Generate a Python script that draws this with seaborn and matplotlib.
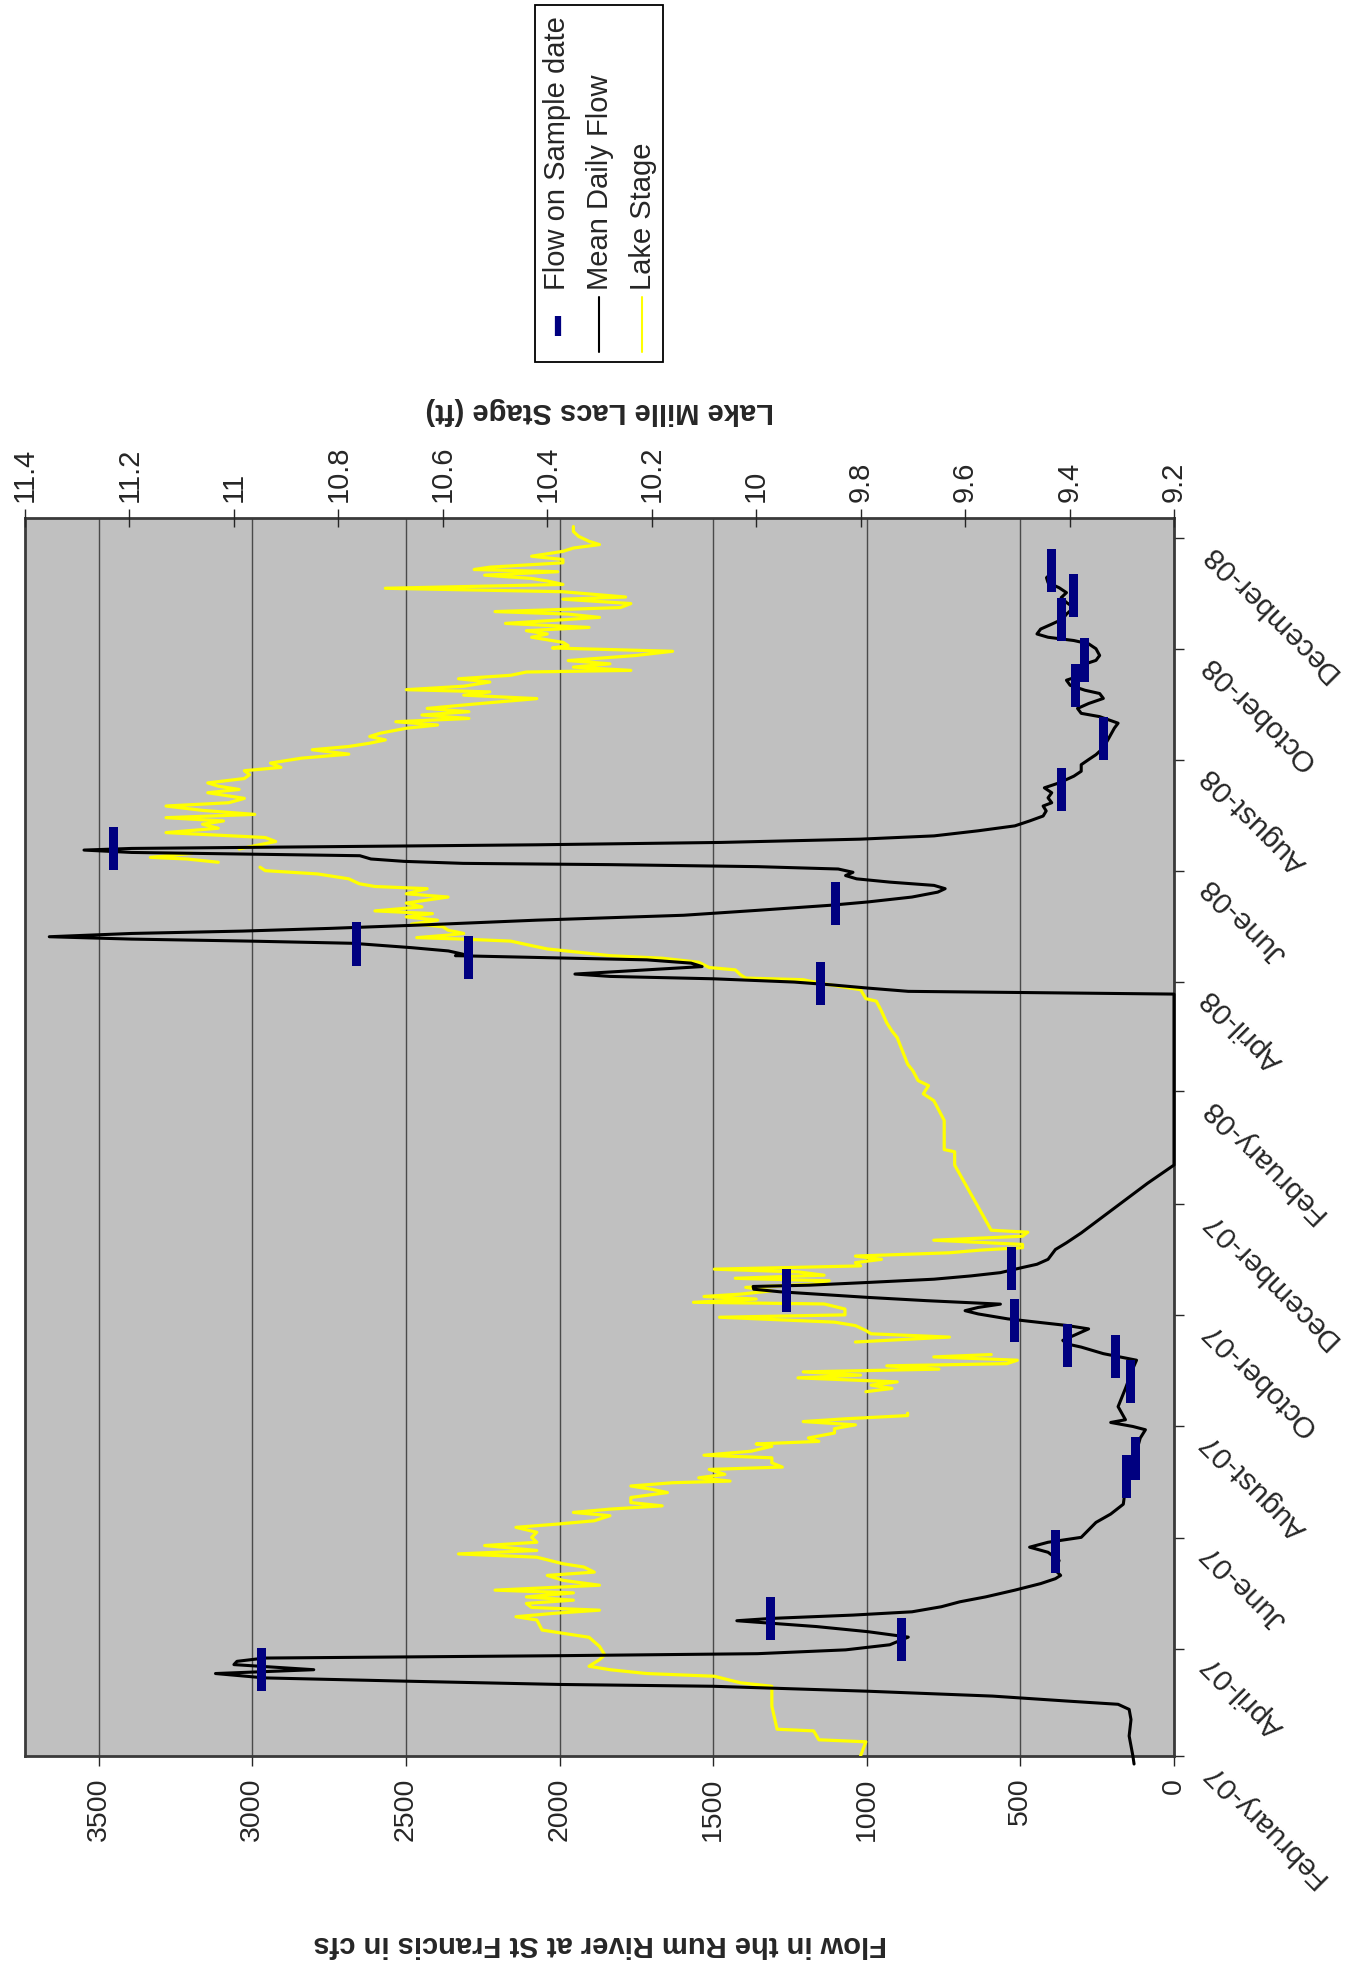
import numpy as np
import pandas as pd
import matplotlib
matplotlib.use("Agg")
import matplotlib.pyplot as plt
import matplotlib.dates as mdates
from matplotlib.path import Path
from matplotlib.lines import Line2D
from matplotlib.patches import Rectangle
from matplotlib.transforms import ScaledTranslation
import seaborn as sns

sns.set_style("white")
plt.rcParams['font.family'] = ['Liberation Sans', 'DejaVu Sans']

START = pd.Timestamp("2007-02-01")

# ---- Mean daily flow (days after 1 Feb 2007, cfs) ----
flow_days = [-4.4, 0.2, 11, 20, 25.6, 28.4, 30.2, 32.9, 35.6, 38.3, 39.3, 41.1, 42.9, 45.3, 47.4, 50.2, 52.0,
             53.8, 55.1, 56.2, 58.3, 61.1, 65.3, 68.3, 71.1, 72.9, 74.3, 75.6, 77.4, 79.2, 82.0, 84.7, 87.4,
             91.1, 94.7, 97.4, 99.2, 102.0, 107.4, 111.9, 114.7, 117.4, 120.1, 128.3, 132.9, 138.3, 147.4,
             154.7, 167.4, 174.6, 179.2, 181.0, 183.2, 184.7, 191.9, 201.9, 212.8, 217.4, 221.0, 224.6, 226.4,
             228.3, 231.0, 234.6, 236.5, 238.3, 240.1, 242.8, 244.6, 246.4, 248.2, 250.1, 251.9, 253.7, 255.0,
             256.4, 257.9, 258.6, 260.1, 261.9, 263.7, 265.5, 268.3, 270.1, 272.8, 278.2, 281.9, 287.3, 296.4,
             305.5, 314.6, 324.6, 418.5, 420.0, 421.8, 423.6, 425.1, 426.9, 428.2, 429.5, 431.8, 433.6, 435.5,
             437.3, 438.6, 439.6, 440.4, 442.2, 444.0, 446.4, 447.6, 448.7, 450.0, 451.8, 453.1, 454.6, 456.4,
             459.1, 461.8, 464.5, 467.3, 469.1, 471.8, 474.5, 476.4, 478.2, 480.0, 481.8, 483.6, 485.4, 487.2,
             488.5, 489.6, 490.3, 491.4, 492.7, 494.5, 495.4, 496.3, 497.6, 498.5, 499.4, 500.5, 501.8, 503.6,
             505.4, 508.2, 510.9, 513.6, 516.3, 519.1, 521.8, 523.6, 526.3, 529.1, 531.8, 534.5, 538.2, 540.9,
             544.5, 547.3, 550.0, 553.7, 557.3, 560.9, 564.6, 567.3, 570.9, 572.7, 575.4, 578.1, 580.9, 583.6,
             585.4, 588.1, 590.9, 593.6, 596.3, 599.1, 601.8, 604.5, 608.2, 610.9, 612.7, 614.5, 616.3, 619.0,
             621.7, 624.5, 627.2, 630.8, 633.6, 636.3, 639.0, 641.7, 644.5, 647.2, 649.9]
flow_values = [130, 134, 146, 140, 146, 182, 350, 590, 1000, 1500, 2000, 2500, 2960, 3120, 2800, 3060, 3050,
               2960, 2000, 1356, 1069, 925, 865, 997, 1164, 1308, 1423, 1308, 1045, 853, 757, 697, 613,
               518, 434, 386, 369, 386, 374, 410, 470, 410, 302, 254, 206, 165, 158,
               146, 122, 110, 93, 134, 206, 158, 182, 158, 134, 122, 230, 302, 350,
               362, 326, 278, 350, 446, 541, 637, 680, 637, 565, 805, 997, 1164, 1284,
               1368, 1370, 1188, 997, 781, 661, 565, 494, 446, 410, 386, 350, 302, 230,
               158, 86, 0, 0, 865, 997, 1117, 1236, 1500, 1835, 1950, 1716, 1536, 1572,
               1716, 2075, 2339, 2314, 2362, 2482, 2674, 3009, 3393, 3661, 3393, 3033, 2745, 2458,
               2075, 1596, 1356, 1117, 997, 853, 769, 745, 781, 925, 1033, 1069, 1045, 1093,
               1356, 1835, 2314, 2506, 2614, 2650, 3033, 3393, 3548, 3393, 2794, 2075, 1476, 1021,
               781, 637, 518, 470, 426, 416, 426, 398, 410, 398, 422, 374, 326, 302,
               302, 278, 254, 230, 218, 206, 194, 182, 242, 302, 314, 278, 230, 242,
               290, 338, 350, 302, 326, 302, 254, 242, 254, 278, 326, 410, 446, 434,
               398, 362, 350, 326, 350, 367, 350, 374, 410, 415, 398]

# ---- Flow on sample dates ----
sample_days = [47.4, 64.0, 75.6, 112.3, 153.6, 163.5, 205.5, 219.5, 225.7, 239.2, 255.5, 268.0,
               424.5, 438.6, 446.0, 468.0, 498.6, 531.0, 559.0, 588.0, 602.0, 624.2, 637.4, 651.2]
sample_flow = [2970, 886, 1312, 387, 155, 125, 142, 189, 346, 518, 1260, 528,
               1152, 2295, 2662, 1102, 3453, 367, 230, 321, 290, 367, 326, 398]

# ---- Lake stage (ft); NaN marks missing records ----
stage_days = [0.2, 7.8, 8.9, 13.8, 14.7, 27.4, 38.3, 40.2, 43.8, 45.3, 47.4, 49.3, 52.9, 55.6, 60.2, 65.2,
              67.4, 69.2, 74.7, 76.5, 78.3, 80.1, 81.6, 83.8, 85.6, 87.4, 89.6, 91.1, 93.8, 96.5, 99.2, 101.0,
              103.8, 105.6, 109.2, 111.0, 112.9,
              115.6, 117.4, 120.1, 122.9, 125.6, 127.4, 129.2, 132.0, 133.8, 135.6, 137.4, 139.2, 142.0, 144.7,
              146.5, 148.3, 150.1, 151.0, 152.8, 154.7, 157.4, 158.7, 161.0, 163.8, 165.2, 167.4, 170.1, 171.4,
              172.8, 174.7, 177.4, 179.8, 181.9, 183.7, 185.2, 187.0, 188.3, 194.0, 200.1, 201.9, 203.7, 205.5,
              207.7, 209.2, 211.0, 212.5, 214.3, 215.5, 217.4, 219.2, 220.5, 223.5,
              227.4, 230.1, 231.9, 233.7, 236.4, 238.3, 241.0, 242.3, 245.5, 248.3, 249.2, 251.0, 252.4, 253.7,
              255.5, 257.4, 259.2, 261.0, 262.4, 264.1, 265.9, 267.4, 269.2, 271.0, 272.8, 274.6, 276.4, 277.9,
              279.2, 281.0, 283.3, 285.5, 287.7, 288.8, 324.6, 331.9, 333.1, 334.6, 341.9,
              347.3, 349.1, 354.6, 360.0, 363.7, 368.2, 371.0, 376.4, 380.0, 387.3, 394.6, 398.2, 402.7, 409.1,
              414.6, 416.0, 420.9, 422.7, 424.6, 426.4, 427.3, 429.1, 431.8, 433.1, 436.0, 438.2, 439.6, 441.8,
              443.3, 445.1, 447.6, 448.7, 449.5, 450.9, 451.8, 453.6, 455.5, 456.4,
              456.9, 459.1, 460.9, 462.7, 464.2, 466.4, 468.5, 471.8, 473.6, 476.4, 477.6, 479.1, 481.8, 484.5,
              486.3, 488.2, 489.5, 490.9, 492.7, 493.6, 495.8, 497.0, 498.2, 500.0, 502.3, 504.5, 507.2, 509.6,
              511.8, 513.6, 515.4, 517.2, 519.4, 521.8, 523.6, 526.0, 529.1, 530.9, 532.7, 534.5, 536.9, 539.0,
              541.2, 543.0, 545.4, 548.1, 550.3, 552.7, 554.5, 556.3, 558.1, 560.0, 561.8, 564.5, 566.3,
              568.1, 569.9, 571.8, 573.6, 575.4, 577.8, 580.8, 582.7, 584.5, 585.7, 587.6, 589.9, 591.7, 593.6,
              595.4, 596.3, 598.1, 599.9, 601.7, 604.5, 606.8, 608.6, 609.9, 611.7, 614.5, 616.3, 618.1, 619.9,
              622.1, 625.4, 627.2, 628.6, 630.8, 633.0, 635.4, 636.6, 639.5, 641.4, 643.5, 645.4, 646.8, 648.6,
              650.5, 651.7, 653.0, 655.4, 657.2, 659.0, 661.7, 663.5, 665.4, 667.2, 669.9, 672.6, 675.3]
nan = np.nan
stage_values = [9.80, 9.79, 9.88, 9.89, 9.96, 9.97, 9.97, 10.03, 10.08, 10.21, 10.28, 10.32, 10.30, 10.29, 10.30, 10.32,
                10.37, 10.41, 10.42, 10.46, 10.39, 10.30, 10.43, 10.44, 10.35, 10.44, 10.35, 10.50, 10.30, 10.37, 10.40, 10.31,
                10.33, 10.37, 10.42, 10.57, 10.42,
                10.52, 10.42, 10.43, 10.42, 10.46, 10.38, 10.31, 10.28, 10.35, 10.28, 10.18, 10.24, 10.24, 10.17,
                10.20, 10.24, 10.16, 10.05, 10.11, 10.06, 10.09, 9.95, 9.97, 9.97, 10.10, 10.01, 9.97, 10.00,
                9.88, 9.90, 9.85, 9.85, 9.81, 9.91, 9.83, 9.71, 9.71, nan, 9.79, 9.74, 9.78, 9.73,
                9.92, 9.80, 9.91, 9.65, 9.75, 9.52, 9.50, 9.66, 9.55, nan,
                9.81, 9.63, 9.78, 9.79, 9.81, 9.85, 10.07, 9.83, 9.83, 9.87, 10.12, 10.00, 10.10, 10.03,
                9.97, 10.02, 9.89, 9.86, 10.04, 9.87, 9.92, 10.08, 9.80, 9.81, 9.76, 9.81, 9.63, 9.57,
                9.49, 9.49, 9.66, 9.49, 9.48, 9.55, 9.62, 9.62, 9.64, 9.64, 9.64,
                9.64, 9.64, 9.65, 9.66, 9.68, 9.67, 9.69, 9.70, 9.71, 9.72, 9.73, 9.74, 9.75, 9.76,
                9.77, 9.79, 9.80, 9.84, 9.88, 9.91, 10.02, 10.03, 10.04, 10.09, 10.11, 10.18, 10.28, 10.35,
                10.40, 10.43, 10.47, 10.56, 10.65, 10.59, 10.56, 10.59, 10.60, 10.63,
                10.66, 10.61, 10.67, 10.62, 10.73, 10.64, 10.67, 10.59, 10.67, 10.63, 10.73, 10.76, 10.78, 10.84,
                10.94, 10.95, nan, 11.03, 11.09, 11.16, 11.08, nan, 10.99, 10.96, 10.92, 10.94, 11.13, 11.03,
                11.06, 11.02, 11.13, 10.96, 11.06, 11.13, 11.01, 10.98, 11.05, 10.99, 11.03, 11.05, 10.98, 10.97,
                10.98, 10.91, 10.93, 10.87, 10.78, 10.85, 10.78, 10.74, 10.71, 10.74, 10.72, 10.67, 10.61,
                10.69, 10.55, 10.64, 10.55, 10.63, 10.54, 10.42, 10.56, 10.51, 10.67, 10.56, 10.51, 10.57, 10.47,
                10.44, 10.24, 10.35, 10.28, 10.36, 10.23, 10.16, 10.39, 10.36, 10.37, 10.43, 10.40, 10.44, 10.32,
                10.48, 10.30, 10.36, 10.50, 10.26, 10.24, 10.37, 10.25, 10.37, 10.71, 10.37, 10.40, 10.43, 10.52,
                10.38, 10.54, 10.51, 10.37, 10.37, 10.43, 10.37, 10.35, 10.30, 10.32, 10.34, 10.35, 10.35]

flow_ticks = [0, 500, 1000, 1500, 2000, 2500, 3000, 3500]
stage_ticks = [9.2, 9.4, 9.6, 9.8, 10.0, 10.2, 10.4, 10.6, 10.8, 11.0, 11.2, 11.4]
stage_tick_labels = ["9.2", "9.4", "9.6", "9.8", "10", "10.2", "10.4", "10.6", "10.8", "11", "11.2", "11.4"]
legend_labels = ["Flow on Sample date", "Mean Daily Flow", "Lake Stage"]


def to_dates(days):
    return START + pd.to_timedelta(np.asarray(days, dtype=float), unit="D")


flow_df = pd.DataFrame({"date": to_dates(flow_days), "flow": flow_values})
sample_df = pd.DataFrame({"date": to_dates(sample_days), "flow": sample_flow})
stage_df = pd.DataFrame({"date": to_dates(stage_days), "stage": stage_values})
stage_df["seg"] = stage_df["stage"].isna().cumsum()
stage_df = stage_df.dropna()

NAVY = "#000080"
YELLOW = "#FFFF00"
W, H = 1356, 1965

fig = plt.figure(figsize=(W / 100, H / 100), dpi=100)
L, R, T, B = 25, 1174, 519, 1757
ax = fig.add_axes([L / W, 1 - B / H, (R - L) / W, (B - T) / H])
ax2 = ax.twiny()
ax3 = ax.twiny()

ax.set_facecolor("#C0C0C0")
ax.set_xlim(3740, 0)
ax.set_ylim(START, START + pd.Timedelta(days=680))
ax.set_xticks(flow_ticks)
ax.set_xticklabels([str(v) for v in flow_ticks])
ax.grid(axis="x", color="#4a4a4a", linewidth=1.0)
ax.grid(axis="y", visible=False)
ax.set_axisbelow(True)
ax.yaxis.tick_right()
ax.yaxis.set_major_locator(mdates.MonthLocator(bymonth=(2, 4, 6, 8, 10, 12)))
ax.yaxis.set_major_formatter(mdates.DateFormatter("%B-%y"))
ax.tick_params(axis="x", direction="out", length=7, width=1, pad=8, labelsize=20.5, labelrotation=90)
ax.tick_params(axis="y", direction="out", length=7, width=1, pad=16, labelsize=21.5)
ax.set_xlabel("")
ax.set_ylabel("")
for s in ax.spines.values():
    s.set_color("#3a3a3a")
    s.set_linewidth(2)

# Lake stage on secondary (top) axis
sns.lineplot(data=stage_df, x="stage", y="date", units="seg", estimator=None, orient="y",
             sort=True, color=YELLOW, linewidth=2.3, ax=ax2, legend=False)
ax2.set_xlim(11.4, 9.2)
ax2.set_xticks(stage_ticks)
ax2.set_xticklabels(stage_tick_labels)
ax2.tick_params(axis="x", direction="inout", length=13, width=1, pad=6, labelsize=21, labelrotation=90)
ax2.set_xlabel("")
ax2.set_ylabel("")
for s in ax2.spines.values():
    s.set_visible(False)

# Flow series on top
sns.lineplot(data=flow_df, x="flow", y="date", estimator=None, orient="y", sort=True,
             color="black", linewidth=2.2, ax=ax3, legend=False, clip_on=False)
bar = Path([(-0.105, -0.5), (0.105, -0.5), (0.105, 0.5), (-0.105, 0.5), (-0.105, -0.5)], closed=True)
sns.scatterplot(data=sample_df, x="flow", y="date", marker=bar, s=31 ** 2, color=NAVY,
                edgecolor="none", linewidth=0, ax=ax3, legend=False, zorder=5)
ax3.set_xlim(3740, 0)
ax3.axis("off")
ax3.set_ylim(START, START + pd.Timedelta(days=680))

fig.canvas.draw()
shift = ScaledTranslation(0, -10 / 100, fig.dpi_scale_trans)
for lbl in ax.get_yticklabels():
    lbl.set_rotation(135)
    lbl.set_rotation_mode("anchor")
    lbl.set_horizontalalignment("right")
    lbl.set_verticalalignment("center")
    lbl.set_transform(lbl.get_transform() + shift)

# Axis titles (chart is presented rotated)
fig.text(600 / W, 1 - 1944 / H, "Flow in the Rum River at St Francis in cfs", rotation=180,
         ha="center", va="center", fontsize=21, fontweight="bold")
fig.text(600 / W, 1 - 411 / H, "Lake Mille Lacs Stage (ft)", rotation=180,
         ha="center", va="center", fontsize=21, fontweight="bold")

# Legend drawn in rotated orientation
fig.add_artist(Rectangle((535 / W, 1 - 363 / H), 128 / W, 357 / H, transform=fig.transFigure,
                         facecolor="white", edgecolor="black", linewidth=1.3))
fig.add_artist(Line2D([557.5 / W, 557.5 / W], [1 - 337 / H, 1 - 317 / H], transform=fig.transFigure,
                      color=NAVY, linewidth=4.5, solid_capstyle="butt"))
fig.add_artist(Line2D([599 / W, 599 / W], [1 - 353 / H, 1 - 298 / H], transform=fig.transFigure,
                      color="black", linewidth=1.5))
fig.add_artist(Line2D([642 / W, 642 / W], [1 - 353 / H, 1 - 298 / H], transform=fig.transFigure,
                      color=YELLOW, linewidth=1.5))
for xpix, txt in zip([557, 600, 643], legend_labels):
    fig.text(xpix / W, 1 - 290 / H, txt, rotation=90, ha="center", va="bottom", fontsize=21)

fig.savefig("out.png", dpi=100)
